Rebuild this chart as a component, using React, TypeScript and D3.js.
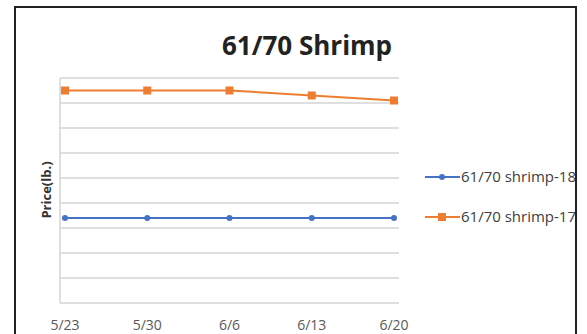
import React, { useEffect, useRef } from 'react';
import * as d3 from 'd3';

// weekly dates on the x axis
const dates = ['5/23', '5/30', '6/6', '6/13', '6/20'];
// prices (y scale has no labels in the source, values read from gridlines)
const shrimp18 = [3.4, 3.4, 3.4, 3.4, 3.4];
const shrimp17 = [8.5, 8.5, 8.5, 8.3, 8.1];
const seriesNames = ['61/70 shrimp-18', '61/70 shrimp-17'];
const yTicks = [0, 1, 2, 3, 4, 5, 6, 7, 8, 9];

const App = () => {
  const ref = useRef<SVGSVGElement>(null);

  useEffect(() => {
    const svg = d3.select(ref.current);
    svg.selectAll('*').remove();

    const width = 587;
    const height = 334;
    const font = 'Open Sans, sans-serif';

    const x = d3.scalePoint<string>().domain(dates).range([65, 394]);
    const y = d3.scaleLinear().domain([0, 9]).range([303, 78]);

    const colors = ['#4472C4', '#ED7D31'];

    svg.append('rect').attr('width', width).attr('height', height).attr('fill', '#fff');

    // outer frame
    svg.append('rect')
      .attr('x', 15)
      .attr('y', 7)
      .attr('width', 561)
      .attr('height', 340)
      .attr('fill', '#fff')
      .attr('stroke', '#222')
      .attr('stroke-width', 2);

    // title
    svg.append('text')
      .attr('x', 307)
      .attr('y', 55)
      .attr('text-anchor', 'middle')
      .attr('font-family', font)
      .attr('font-weight', 'bold')
      .attr('font-size', 26)
      .attr('fill', '#222')
      .text('61/70 Shrimp');

    // horizontal gridlines
    svg.append('g')
      .selectAll('line')
      .data(yTicks)
      .join('line')
      .attr('x1', 60)
      .attr('x2', 399)
      .attr('y1', d => y(d))
      .attr('y2', d => y(d))
      .attr('stroke', '#d4d4d4')
      .attr('stroke-width', 1.5);

    // left edge of plot area
    svg.append('line')
      .attr('x1', 60).attr('x2', 60)
      .attr('y1', y(9)).attr('y2', y(0))
      .attr('stroke', '#d4d4d4')
      .attr('stroke-width', 1.5);

    // x labels
    svg.append('g')
      .selectAll('text')
      .data(dates)
      .join('text')
      .attr('x', d => x(d)!)
      .attr('y', 330)
      .attr('text-anchor', 'middle')
      .attr('font-family', font)
      .attr('font-size', 14)
      .attr('fill', '#595959')
      .text(d => d);

    // y axis title
    svg.append('text')
      .attr('transform', 'translate(51,190) rotate(-90)')
      .attr('text-anchor', 'middle')
      .attr('font-family', font)
      .attr('font-weight', 'bold')
      .attr('font-size', 13)
      .attr('fill', '#333')
      .text('Price(lb.)');

    const line = d3.line<number>()
      .x((d, i) => x(dates[i])!)
      .y(d => y(d));

    [shrimp18, shrimp17].forEach((vals, s) => {
      svg.append('path')
        .datum(vals)
        .attr('fill', 'none')
        .attr('stroke', colors[s])
        .attr('stroke-width', 2)
        .attr('d', line);

      const g = svg.append('g');
      if (s === 0) {
        g.selectAll('circle')
          .data(vals)
          .join('circle')
          .attr('cx', (d, i) => x(dates[i])!)
          .attr('cy', d => y(d))
          .attr('r', 3)
          .attr('fill', colors[s]);
      } else {
        g.selectAll('rect')
          .data(vals)
          .join('rect')
          .attr('x', (d, i) => x(dates[i])! - 4)
          .attr('y', d => y(d) - 4)
          .attr('width', 8)
          .attr('height', 8)
          .attr('fill', colors[s]);
      }
    });

    // legend (clipped by the frame)
    svg.append('clipPath')
      .attr('id', 'legclip')
      .append('rect')
      .attr('x', 400).attr('y', 0).attr('width', 175).attr('height', height);

    const legend = svg.append('g').attr('clip-path', 'url(#legclip)');
    seriesNames.forEach((name, s) => {
      const ly = s === 0 ? 177 : 217;
      legend.append('line')
        .attr('x1', 425).attr('x2', 460)
        .attr('y1', ly).attr('y2', ly)
        .attr('stroke', colors[s])
        .attr('stroke-width', 2);
      if (s === 0) {
        legend.append('circle').attr('cx', 442).attr('cy', ly).attr('r', 3).attr('fill', colors[s]);
      } else {
        legend.append('rect').attr('x', 438).attr('y', ly - 4).attr('width', 8).attr('height', 8).attr('fill', colors[s]);
      }
      legend.append('text')
        .attr('x', 461)
        .attr('y', ly + 5)
        .attr('font-family', font)
        .attr('font-size', 15)
        .attr('fill', '#404040')
        .text(name);
    });
  }, []);

  return (
    <svg
      ref={ref}
      width={587}
      height={334}
      style={{ position: 'absolute', left: 0, top: 0, display: 'block' }}
    />
  );
};

export default App;
